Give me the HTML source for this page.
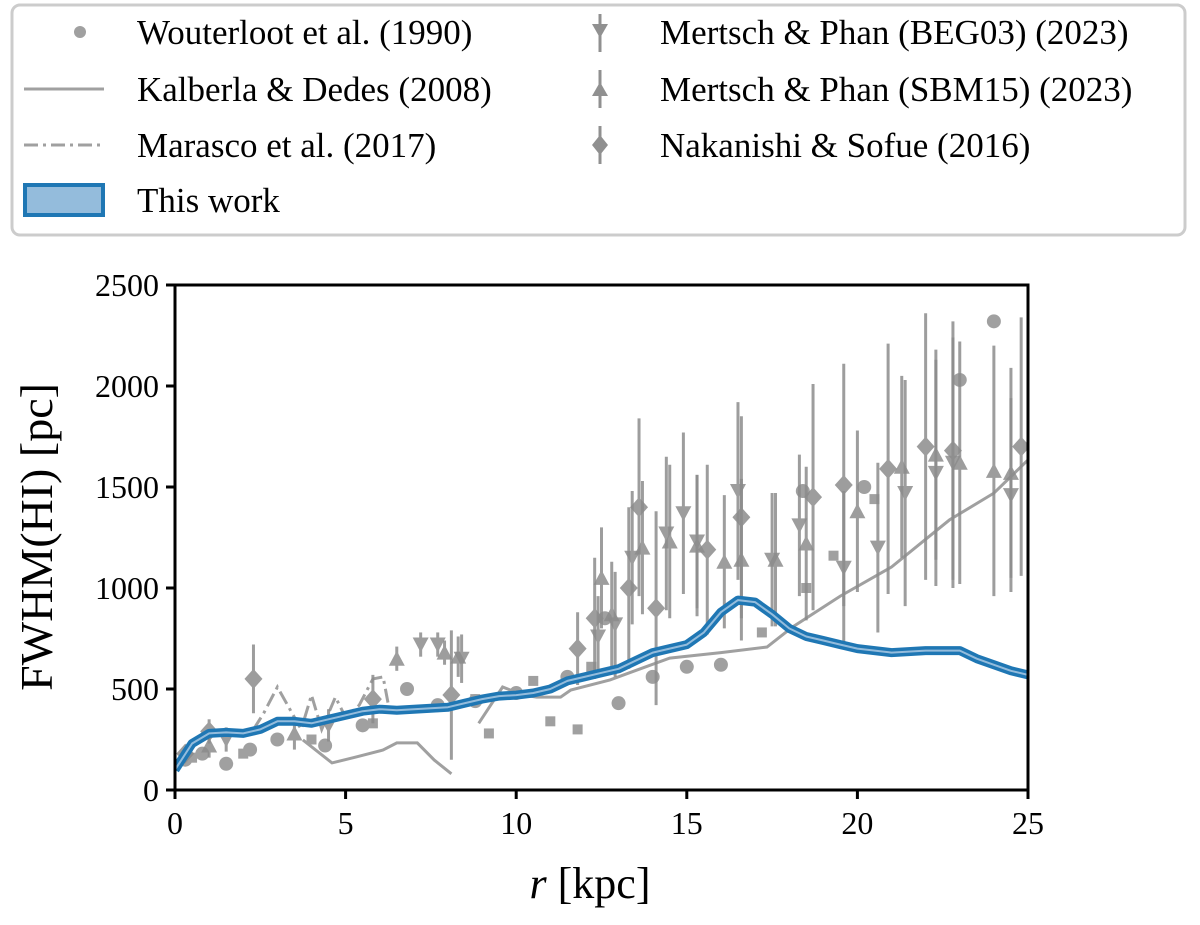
<!DOCTYPE html>
<html><head><meta charset="utf-8"><style>
html,body{margin:0;padding:0;background:#fff;}
svg text{font-family:"Liberation Serif",serif;}
</style></head><body>
<svg id="chart" width="1200" height="920" xmlns="http://www.w3.org/2000/svg">
<g id="legend">
<rect x="12" y="5" width="1173" height="230" rx="8" fill="#fff" stroke="#ccc" stroke-width="3"/>
<g><circle cx="80" cy="32" r="6" fill="#a0a0a0"/><text x="137" y="44" font-size="35">Wouterloot et al. (1990)</text></g>
<g><line x1="24" y1="89" x2="104" y2="89" stroke="#a0a0a0" stroke-width="3"/><text x="137" y="101" font-size="35">Kalberla &amp; Dedes (2008)</text></g>
<g><line x1="24" y1="145" x2="104" y2="145" stroke="#a0a0a0" stroke-width="3" stroke-dasharray="14,5,3,5"/><text x="137" y="157" font-size="35">Marasco et al. (2017)</text></g>
<g><rect x="25" y="185" width="78" height="30" fill="#94bcdc" stroke="#1f77b4" stroke-width="4"/><text x="137" y="212" font-size="35">This work</text></g>
<g><line x1="600" y1="14" x2="600" y2="52" stroke="#909090" stroke-width="3"/><path d="M592,24 L608,24 L600,38 Z" fill="#909090"/><text x="660" y="44" font-size="35">Mertsch &amp; Phan (BEG03) (2023)</text></g>
<g><line x1="600" y1="70" x2="600" y2="108" stroke="#909090" stroke-width="3"/><path d="M592,96 L608,96 L600,82 Z" fill="#909090"/><text x="660" y="101" font-size="35">Mertsch &amp; Phan (SBM15) (2023)</text></g>
<g><line x1="600" y1="126" x2="600" y2="164" stroke="#909090" stroke-width="3"/><path d="M600,135 L608,145 L600,155 L592,145 Z" fill="#909090"/><text x="660" y="157" font-size="35">Nakanishi &amp; Sofue (2016)</text></g>
</g>
<g id="plot"></g>
<text x="590" y="898" font-size="44" text-anchor="middle"><tspan font-style="italic">r</tspan> [kpc]</text>
<text transform="translate(52,537) rotate(-90)" font-size="46" text-anchor="middle">FWHM(HI) [pc]</text>
</svg>
<script>
const xTicks=[0,5,10,15,20,25];
const yTicks=[0,500,1000,1500,2000,2500];
const thisWorkR=[0,0.5,1,1.5,2,2.5,3,3.5,4,4.5,5,5.5,6,6.5,7,7.5,8,8.5,9,9.5,10,10.5,11,11.5,12,12.5,13,13.5,14,14.5,15,15.5,16,16.5,17,17.5,18,18.5,19,19.5,20,21,22,23,23.5,24,24.5,25];
const thisWorkW=[100,230,280,285,280,300,340,340,330,350,370,390,400,395,400,405,410,430,450,465,470,480,500,540,560,580,600,640,680,700,720,780,880,940,930,870,800,760,740,720,700,680,690,690,650,620,590,570];
const kalInnerR=[3.75,4.6,5.3,6.1,6.5,7.1,7.6,8.1];
const kalInnerW=[248,134,163,198,233,233,148,80];
const kalOuterR=[8.9,9.6,10.2,10.6,11.3,11.6,12.75,14.5,16,17.35,18.1,19.5,21.0,22.7,24,25];
const kalOuterW=[330,510,470,460,460,495,545,653,680,708,807,960,1104,1337,1470,1634];
const marR=[2.3,2.6,3,3.3,3.7,4,4.3,4.7,5,5.4,5.8,6.1,6.3];
const marW=[300,380,510,420,300,470,300,460,360,420,550,560,380];
const woutR=[0.3,0.8,1.5,2.2,3,4.4,5.5,6.8,7.7,8.8,10,11.5,12.6,13,14,15,16,18.4,20.2,23,24];
const woutW=[150,180,130,200,250,220,320,500,420,440,480,560,850,430,560,610,620,1480,1500,2030,2320];
const sqR=[0.5,2,4,5.8,8.8,9.2,10.5,11,11.8,12.2,17.2,18.5,19.3,20.5];
const sqW=[160,180,250,330,450,280,540,340,300,610,780,1000,1160,1440];
const begR=[1.5,4.5,7.2,7.7,8.4,12.4,12.9,13.4,14.4,14.9,15.3,16.5,17.5,18.3,19.6,20.6,21.4,22.3,22.8,24.5];
const begW=[250,320,720,720,650,760,820,1150,1270,1370,1230,1480,1140,1310,1100,1200,1470,1570,1620,1460];
const begE=[60,80,60,60,120,200,260,330,380,400,330,440,330,350,380,420,560,560,620,480];
const sbmR=[1,3.5,6.5,7.9,8.3,12.5,12.8,13.7,14.5,15.3,16.1,16.6,17.6,18.5,20,21.3,22.3,23,24,24.5];
const sbmW=[220,280,650,680,660,1050,870,1200,1230,1210,1130,1140,1140,1220,1380,1600,1660,1620,1580,1570];
const sbmE=[60,80,60,60,100,250,260,330,380,350,330,400,330,380,400,450,520,600,620,520];
const nakR=[0.3,1,2.3,5.8,8.1,11.8,12.3,13.3,13.6,14.1,15.6,16.6,18.7,19.6,20.9,22,22.8,24.8];
const nakW=[180,290,550,450,470,700,850,1000,1400,900,1190,1350,1450,1510,1590,1700,1680,1700];
const nakE=[40,60,170,120,320,180,300,400,440,480,420,500,560,600,620,660,640,640];

const NS='http://www.w3.org/2000/svg';
const X0=175,X1=1028,Y0=790,Y1=285;
const xs=v=>X0+(v/25)*(X1-X0);
const ys=v=>Y0-(v/2500)*(Y0-Y1);
const plot=document.getElementById('plot');
function mk(tag,attrs,parent){const e=document.createElementNS(NS,tag);for(const k in attrs)e.setAttribute(k,attrs[k]);(parent||plot).appendChild(e);return e;}
function pts(R,W){return R.map((r,i)=>xs(r).toFixed(1)+','+ys(W[i]).toFixed(1)).join(' ');}
const clip=mk('clipPath',{id:'pc'});mk('rect',{x:X0,y:Y1,width:X1-X0,height:Y0-Y1},clip);
const g=mk('g',{'clip-path':'url(#pc)'});


const gray='#a0a0a0',dg='#8c8c8c';
let e;
e=mk('polyline',{points:pts(kalInnerR,kalInnerW),fill:'none',stroke:gray,'stroke-width':3},g);


e=mk('polyline',{points:pts(kalOuterR,kalOuterW),fill:'none',stroke:gray,'stroke-width':3},g);


e=mk('polyline',{points:pts(marR,marW),fill:'none',stroke:gray,'stroke-width':3,'stroke-dasharray':'14,5,3,5'},g);


woutR.forEach((r,i)=>{e=mk('circle',{cx:xs(r),cy:ys(woutW[i]),r:7,fill:gray},g);

});
sqR.forEach((r,i)=>{e=mk('rect',{x:xs(r)-5,y:ys(sqW[i])-5,width:10,height:10,fill:gray},g);

});
function errs(R,W,E,shape,name){R.forEach((r,i)=>{const cx=xs(r),cy=ys(W[i]);
const grp=mk('g',{opacity:0.85},g);


mk('line',{x1:cx,x2:cx,y1:ys(W[i]+E[i]),y2:ys(W[i]-E[i]),stroke:dg,'stroke-width':3},grp);
let d;if(shape==='down')d=`M${cx-8},${cy-7} L${cx+8},${cy-7} L${cx},${cy+8} Z`;
else if(shape==='up')d=`M${cx-8},${cy+7} L${cx+8},${cy+7} L${cx},${cy-8} Z`;
else d=`M${cx},${cy-10} L${cx+9},${cy} L${cx},${cy+10} L${cx-9},${cy} Z`;
mk('path',{d:d,fill:dg},grp);});}
errs(begR,begW,begE,'down','beg03-point');
errs(sbmR,sbmW,sbmE,'up','sbm15-point');
errs(nakR,nakW,nakE,'diamond','nakanishi-point');
e=mk('polyline',{points:pts(thisWorkR,thisWorkW),fill:'none',stroke:'#1f77b4','stroke-width':9,'stroke-linejoin':'round'},g);


e=mk('polyline',{points:pts(thisWorkR,thisWorkW),fill:'none',stroke:'#94bcdc','stroke-width':2,'stroke-linejoin':'round'},g);


e=mk('rect',{x:X0,y:Y1,width:X1-X0,height:Y0-Y1,fill:'none',stroke:'#000','stroke-width':3});


xTicks.forEach(t=>{mk('line',{x1:xs(t),x2:xs(t),y1:Y0,y2:Y0+9,stroke:'#000','stroke-width':3});
e=mk('text',{x:xs(t),y:Y0+44,'font-size':32,'text-anchor':'middle'});e.textContent=t;

});
yTicks.forEach(t=>{mk('line',{x1:X0-9,x2:X0,y1:ys(t),y2:ys(t),stroke:'#000','stroke-width':3});
e=mk('text',{x:X0-16,y:ys(t)+11,'font-size':32,'text-anchor':'end'});e.textContent=t;

});
</script>
</body></html>
